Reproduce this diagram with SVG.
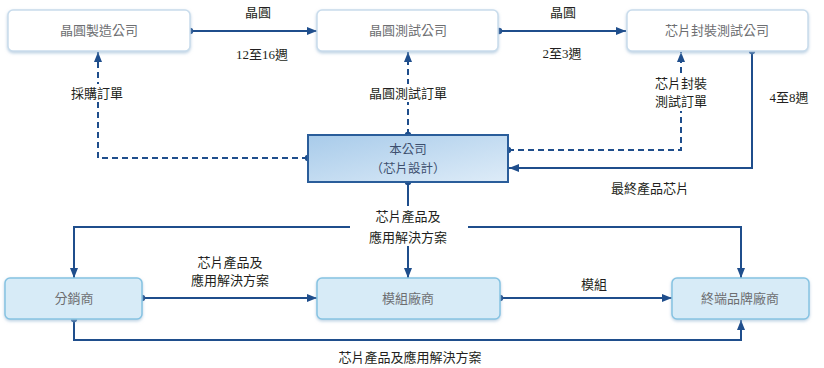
<svg xmlns="http://www.w3.org/2000/svg" width="824" height="368" viewBox="0 0 824 368">
<style>
.bg{fill:#ffffff}
.top{fill:#ffffff;stroke:#c9dcec;stroke-width:1.5}
.bot{fill:#d7ebf7;stroke:#86c3e2;stroke-width:1.5}
.nt{font-family:"Noto Sans CJK TC","Noto Sans CJK SC",sans-serif;font-size:13px;fill:#6d6e71;text-anchor:middle}
.ct{font-family:"Noto Sans CJK TC","Noto Sans CJK SC",sans-serif;font-size:12.5px;fill:#3d4f6e;text-anchor:middle}
.el{font-family:"Liberation Serif","Noto Sans CJK TC",serif;font-size:13px;fill:#231f20;text-anchor:middle}
.ln{fill:none;stroke:#1f4e8c;stroke-width:2}
.ds{fill:none;stroke:#1f4e8c;stroke-width:2;stroke-dasharray:6 4}
.lb{fill:#ffffff}
</style>
<defs>
<marker id="arr" markerUnits="userSpaceOnUse" markerWidth="10" markerHeight="8" refX="10" refY="4" orient="auto-start-reverse">
<path d="M0,0 L10,4 L0,8 z" fill="#1f4e8c"/>
</marker>
<marker id="dot" markerUnits="userSpaceOnUse" markerWidth="8" markerHeight="8" refX="4" refY="4">
<circle cx="4" cy="4" r="3.2" fill="#1f4e8c"/>
</marker>
<linearGradient id="cg" x1="0" y1="0" x2="1" y2="1">
<stop offset="0" stop-color="#a8cbea"/>
<stop offset="1" stop-color="#deecf8"/>
</linearGradient>
<filter id="sh" x="-10%" y="-20%" width="120%" height="150%">
<feDropShadow dx="0" dy="1.5" stdDeviation="1.5" flood-color="#9dbbd6" flood-opacity="0.7"/>
</filter>
</defs>
<rect class="bg" x="0" y="0" width="824" height="368"/>

<g id="connectors">
<path class="ln" d="M190,31 H317" marker-start="url(#dot)" marker-end="url(#arr)"/>
<path class="ln" d="M499,31 H626" marker-start="url(#dot)" marker-end="url(#arr)"/>
<path class="ds" d="M308,158 H98 V52" marker-start="url(#dot)" marker-end="url(#arr)"/>
<path class="ds" d="M408,135 V52" marker-start="url(#dot)" marker-end="url(#arr)"/>
<path class="ds" d="M508,150 H681 V52" marker-start="url(#dot)" marker-end="url(#arr)"/>
<path class="ln" d="M752,51 V168 H509" marker-start="url(#dot)" marker-end="url(#arr)"/>
<path class="ln" d="M408,182 V278" marker-start="url(#dot)" marker-end="url(#arr)"/>
<path class="ln" d="M74,278 V227 H741 V278" marker-start="url(#arr)" marker-end="url(#arr)"/>
<path class="ln" d="M142,298 H317" marker-start="url(#dot)" marker-end="url(#arr)"/>
<path class="ln" d="M500,298 H672" marker-start="url(#dot)" marker-end="url(#arr)"/>
<path class="ln" d="M74,319 V340 H741 V320" marker-start="url(#dot)" marker-end="url(#arr)"/>

<rect class="lb" x="68" y="84" width="60" height="18"/>
<rect class="lb" x="365" y="84" width="86" height="18"/>
<rect class="lb" x="652" y="73" width="58" height="38"/>
<rect class="lb" x="350" y="206" width="118" height="40"/>

<text class="el" x="258" y="17">晶圓</text>
<text class="el" x="262" y="59">12至16週</text>
<text class="el" x="563" y="17">晶圓</text>
<text class="el" x="562" y="58">2至3週</text>
<text class="el" x="97" y="98">採購訂單</text>
<text class="el" x="408" y="98">晶圓測試訂單</text>
<text class="el" x="681" y="88">芯片封裝</text>
<text class="el" x="681" y="106">測試訂單</text>
<text class="el" x="789" y="102">4至8週</text>
<text class="el" x="650" y="193">最終產品芯片</text>
<text class="el" x="408" y="221">芯片產品及</text>
<text class="el" x="408" y="242">應用解決方案</text>
<text class="el" x="230" y="267">芯片產品及</text>
<text class="el" x="230" y="285">應用解決方案</text>
<text class="el" x="594" y="289">模組</text>
<text class="el" x="410" y="362">芯片產品及應用解決方案</text>
</g>

<g id="n-wafer-fab">
<rect class="top" x="8" y="10" width="182" height="41" rx="5" filter="url(#sh)"/>
<text class="nt" x="99" y="35">晶圓製造公司</text>
</g>
<g id="n-wafer-test">
<rect class="top" x="317" y="10" width="181" height="41" rx="5" filter="url(#sh)"/>
<text class="nt" x="408" y="35">晶圓測試公司</text>
</g>
<g id="n-packaging">
<rect class="top" x="627" y="10" width="181" height="41" rx="5" filter="url(#sh)"/>
<text class="nt" x="717" y="35">芯片封裝測試公司</text>
</g>
<g id="n-company">
<rect x="308" y="135" width="200" height="47" fill="url(#cg)" stroke="#2a5d9a" stroke-width="2"/>
<text class="ct" x="408" y="153.5">本公司</text>
<text class="ct" x="408" y="172.5">（芯片設計）</text>
</g>
<g id="n-distributor">
<rect class="bot" x="5" y="278" width="137" height="41" rx="5" filter="url(#sh)"/>
<text class="nt" x="74" y="303">分銷商</text>
</g>
<g id="n-module">
<rect class="bot" x="317" y="278" width="183" height="41" rx="5" filter="url(#sh)"/>
<text class="nt" x="408" y="303">模組廠商</text>
</g>
<g id="n-brand">
<rect class="bot" x="672" y="278" width="137" height="41" rx="5" filter="url(#sh)"/>
<text class="nt" x="740" y="303">終端品牌廠商</text>
</g>
</svg>
